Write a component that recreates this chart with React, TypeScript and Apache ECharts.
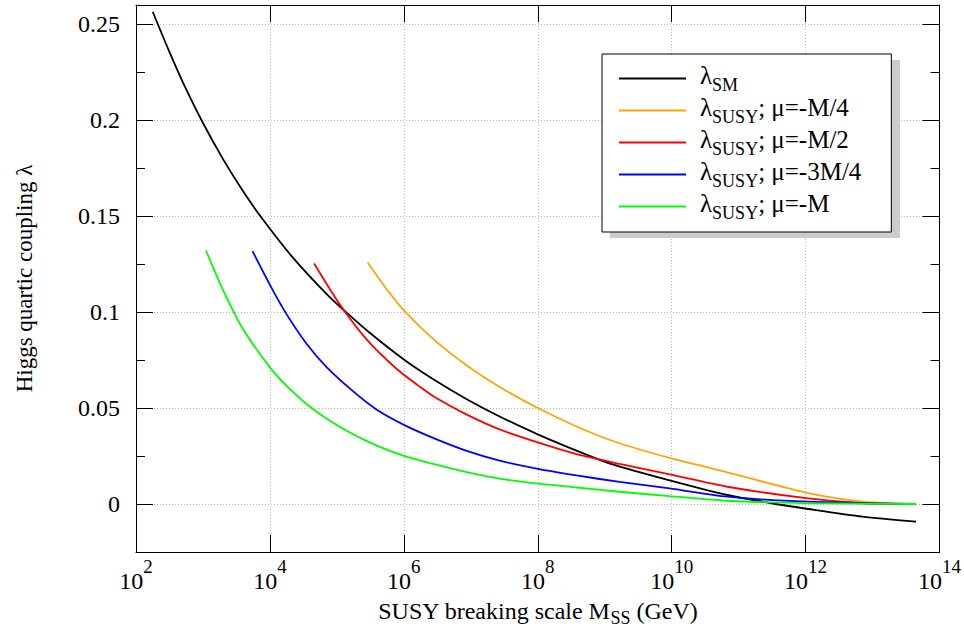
import React, { useEffect, useRef } from "react";
import * as echarts from "echarts";

// x values are log10(M_SS / GeV)
const smX = [2.25, 2.5, 2.75, 3.0, 3.3, 3.6, 3.87, 4.34, 4.885, 5.145, 5.49, 6.0, 6.44, 6.94, 7.43, 8.0, 8.58, 9.13, 9.97, 10.83, 11.49, 12.04, 12.85, 13.65];
const smY = [0.2565, 0.2355, 0.216, 0.1985, 0.1797, 0.1629, 0.1494, 0.1285, 0.108, 0.0997, 0.0892, 0.0753, 0.065, 0.0546, 0.0456, 0.0363, 0.0278, 0.0205, 0.0123, 0.0047, 0.0004, -0.0026, -0.0066, -0.0092];

const q4X = [5.46, 5.716, 5.99, 6.44, 6.94, 7.43, 8.0, 8.58, 9.13, 9.97, 10.83, 12.04, 12.85, 13.34, 13.65];
const q4Y = [0.1258, 0.1132, 0.1013, 0.0859, 0.0722, 0.061, 0.050, 0.0404, 0.0327, 0.024, 0.0165, 0.0057, 0.0012, 0.0002, 0];

const q2X = [4.66, 5.045, 5.44, 5.89, 6.24, 6.49, 6.94, 7.43, 8.0, 8.58, 9.22, 9.97, 10.83, 12.04, 12.85, 13.65];
const q2Y = [0.1253, 0.1039, 0.0859, 0.0705, 0.0611, 0.0551, 0.0466, 0.0389, 0.0321, 0.026, 0.0209, 0.0154, 0.009, 0.0029, 0.0004, 0];

const q34X = [3.74, 4.0, 4.25, 4.55, 4.85, 5.24, 5.59, 6.04, 6.49, 6.94, 7.43, 8.0, 8.58, 9.22, 9.97, 10.83, 12.04, 13.65];
const q34Y = [0.1318, 0.1142, 0.0988, 0.0834, 0.0712, 0.0588, 0.0493, 0.0406, 0.0337, 0.0277, 0.0226, 0.0183, 0.0149, 0.0115, 0.0081, 0.0038, 0.0012, 0];

const q1X = [3.045, 3.3, 3.6, 4.0, 4.25, 4.55, 4.9, 5.44, 5.99, 6.44, 6.94, 7.43, 8.0, 8.58, 9.22, 9.97, 10.83, 12.04, 13.65];
const q1Y = [0.1321, 0.1115, 0.0911, 0.0712, 0.0615, 0.052, 0.0433, 0.0329, 0.0252, 0.0209, 0.0166, 0.0132, 0.0106, 0.0086, 0.0064, 0.0041, 0.0017, 0.0004, 0];

const seriesNames = ["λSM", "λSUSY; μ=-M/4", "λSUSY; μ=-M/2", "λSUSY; μ=-3M/4", "λSUSY; μ=-M"];
const seriesColors = ["#000000", "#ffa500", "#ff0000", "#0000ff", "#00ff00"];
const seriesXs = [smX, q4X, q2X, q34X, q1X];
const seriesYs = [smY, q4Y, q2Y, q34Y, q1Y];

const FONT = "Liberation Serif";

export default function App() {
  const ref = useRef<HTMLDivElement>(null);
  useEffect(() => {
    if (!ref.current) return;
    const chart = echarts.init(ref.current, null, { renderer: "svg" });

    const baseY = {
      type: "value",
      min: -0.025,
      max: 0.26,
      axisLine: { show: true, onZero: false, lineStyle: { color: "#000", width: 1 } },
      splitLine: { show: false },
      axisLabel: { show: false },
    };
    const series = seriesNames.map((name, i) => ({
      name,
      type: "line",
      showSymbol: false,
      symbol: "none",
      smooth: 0.25,
      xAxisIndex: 0,
      yAxisIndex: 0,
      lineStyle: { color: seriesColors[i], width: 1.8 },
      itemStyle: { color: seriesColors[i] },
      data: seriesXs[i].map((x, j) => [x, seriesYs[i][j]]),
      z: 2,
    }));

    const option: any = {
      animation: false,
      backgroundColor: "#fff",
      textStyle: { fontFamily: FONT, color: "#000" },
      grid: { left: 136, top: 5, width: 804, height: 554, containLabel: false },
      xAxis: [
        {
          type: "value",
          position: "bottom",
          min: 2,
          max: 14,
          interval: 2,
          name: "{m|SUSY breaking scale M}{sub|SS}{m| (GeV)}",
          nameLocation: "middle",
          nameGap: 47,
          nameTextStyle: {
            fontFamily: FONT,
            fontSize: 24,
            color: "#000",
            rich: {
              m: { fontFamily: FONT, fontSize: 24, lineHeight: 28, verticalAlign: "top", color: "#000" },
              sub: { fontFamily: FONT, fontSize: 18, lineHeight: 18, verticalAlign: "bottom", color: "#000" },
            },
          },
          axisLine: { show: true, onZero: false, lineStyle: { color: "#000", width: 1 } },
          axisTick: { show: true, inside: true, length: 17, lineStyle: { color: "#000" } },
          splitLine: { show: true, lineStyle: { color: "#b8b8b8", type: [1, 2], width: 1 } },
          axisLabel: {
            margin: 5,
            formatter: (v: number) => `{b|10}{sup|${v}}`,
            rich: {
              b: { fontFamily: FONT, fontSize: 24, lineHeight: 36, verticalAlign: "bottom", color: "#000" },
              sup: { fontFamily: FONT, fontSize: 19, lineHeight: 19, verticalAlign: "top", color: "#000" },
            },
          },
        },
        {
          type: "value",
          position: "top",
          min: 2,
          max: 14,
          interval: 2,
          axisLine: { show: true, onZero: false, lineStyle: { color: "#000", width: 1 } },
          axisTick: { show: true, inside: true, length: 17, lineStyle: { color: "#000" } },
          splitLine: { show: false },
          axisLabel: { show: false },
        },
      ],
      yAxis: [
        {
          ...baseY,
          position: "left",
          splitNumber: 5,
          name: "Higgs quartic coupling λ",
          nameLocation: "middle",
          nameRotate: 90,
          nameGap: 100,
          nameTextStyle: { fontFamily: FONT, fontSize: 23, color: "#000" },
          axisTick: { show: true, inside: true, length: 17, lineStyle: { color: "#000" } },
          splitLine: { show: true, showMinLine: false, showMaxLine: false, lineStyle: { color: "#b8b8b8", type: [1, 2], width: 1 } },
          axisLabel: {
            show: true,
            margin: 16,
            showMinLabel: false,
            showMaxLabel: false,
            fontFamily: FONT,
            fontSize: 24,
            color: "#000",
            formatter: (v: number) => (Math.abs(v) < 1e-9 ? "0" : String(Number(v.toFixed(3)))),
          },
        },
        {
          ...baseY,
          position: "left",
          interval: 0.05,
          axisLine: { show: false, onZero: false },
          axisTick: { show: true, inside: true, length: 9, lineStyle: { color: "#000" } },
        },
        {
          ...baseY,
          position: "right",
          splitNumber: 5,
          axisTick: { show: true, inside: true, length: 17, lineStyle: { color: "#000" } },
        },
        {
          ...baseY,
          position: "right",
          interval: 0.05,
          axisLine: { show: false, onZero: false },
          axisTick: { show: true, inside: true, length: 9, lineStyle: { color: "#000" } },
        },
      ],
      legend: {
        show: true,
        orient: "vertical",
        left: 602,
        top: 54,
        z: 5,
        padding: [9, 30, 10, 17],
        itemGap: 1,
        itemWidth: 67,
        itemHeight: 2,
        icon: "rect",
        backgroundColor: "#fff",
        borderColor: "#000",
        borderWidth: 1,
        data: seriesNames,
        formatter: (name: string) =>
          name.startsWith("λSUSY")
            ? "{m|λ}{sub|SUSY}{m|" + name.slice(5) + "}"
            : "{m|λ}{sub|SM}",
        textStyle: {
          fontFamily: FONT,
          fontSize: 25,
          color: "#000",
          padding: [0, 0, 0, 9],
          rich: {
            m: { fontFamily: FONT, fontSize: 25, lineHeight: 31, verticalAlign: "top", color: "#000" },
            sub: { fontFamily: FONT, fontSize: 18, lineHeight: 18, verticalAlign: "bottom", color: "#000" },
          },
        },
      },
      graphic: [
        {
          type: "rect",
          z: 4,
          shape: { x: 610, y: 60, width: 290, height: 178 },
          style: { fill: "#cccccc" },
          silent: true,
        },
      ],
      series,
    };
    chart.setOption(option);
    return () => chart.dispose();
  }, []);
  return <div ref={ref} style={{ position: "fixed", left: 0, top: 0, width: 964, height: 632 }} />;
}
